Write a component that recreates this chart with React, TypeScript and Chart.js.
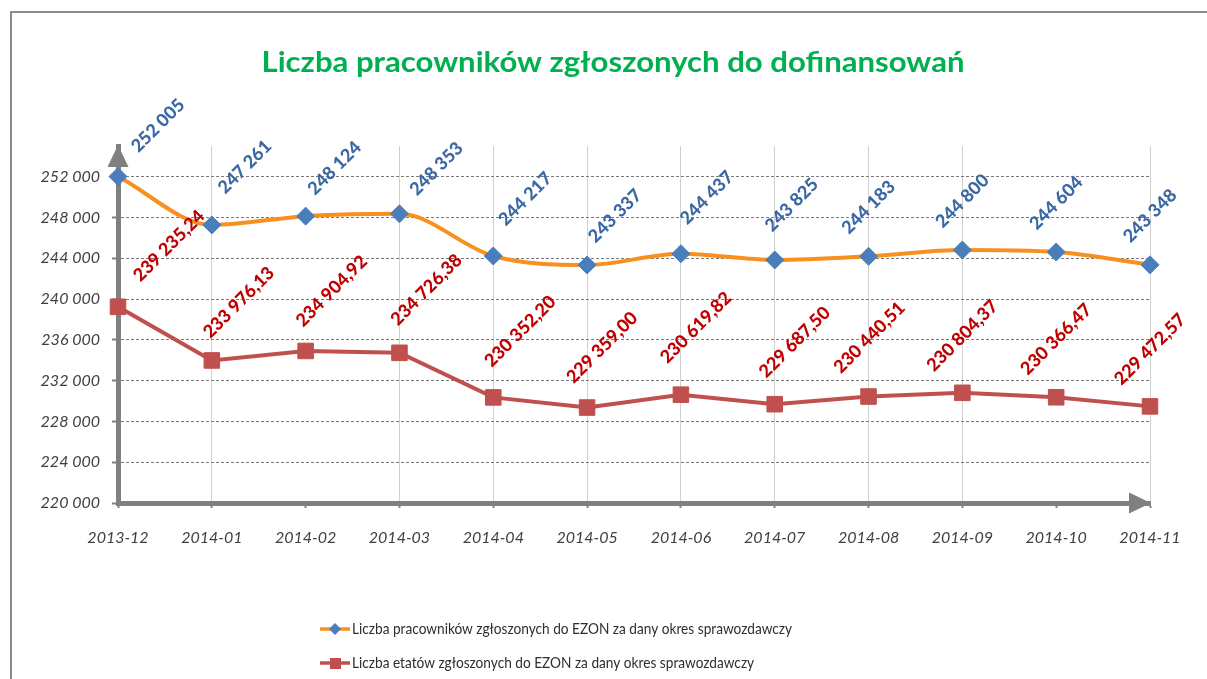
import React, { useEffect, useRef } from "react";
import { Chart, registerables } from "chart.js";

Chart.register(...registerables);

// ---------- data ----------
const categories = [
  "2013-12", "2014-01", "2014-02", "2014-03", "2014-04", "2014-05",
  "2014-06", "2014-07", "2014-08", "2014-09", "2014-10", "2014-11",
];
const workers = [252005, 247261, 248124, 248353, 244217, 243337, 244437, 243825, 244183, 244800, 244604, 243348];
const fte = [239235.24, 233976.13, 234904.92, 234726.38, 230352.2, 229359.0, 230619.82, 229687.5, 230440.51, 230804.37, 230366.47, 229472.57];
const yTicks = [220000, 224000, 228000, 232000, 236000, 240000, 244000, 248000, 252000];
const yMin = 220000;
const yMax = 255000;
const chartTitle = "Liczba pracowników zgłoszonych do dofinansowań";
const seriesNames = [
  "Liczba pracowników zgłoszonych do EZON za dany okres sprawozdawczy",
  "Liczba etatów zgłoszonych do EZON za dany okres sprawozdawczy",
];

// ---------- styles ----------
const W = 1207;
const H = 679;
const ORANGE = "#F7901E";
const BLUE_MARK = "#4A7EBB";
const BLUE_TEXT = "#3A68A3";
const RED_LINE = "#C0504D";
const RED_TEXT = "#C00000";
const AXIS = "#808080";
const FONT = "Lato, 'Open Sans', sans-serif";
// label nudges (x, y offsets in px of the rotated label centre from its point)
const labelNudge = [
  {
    dx: [40, 33, 29, 37, 32, 28, 26, 17, 0, 0, 0, 0],
    dy: [-51, -58, -48, -45, -57, -49, -56, -55, -49, -49, -49, -49],
  },
  {
    dx: [51, 27, 26, 27, 27, 15, 15, 20, 1, 0, 0, 0],
    dy: [-61, -58, -60, -63, -66, -60, -67, -62, -59, -57, -58, -57],
  },
];
const hiddenVGrid = [2, 10];

function fmtInt(v: number): string {
  return Math.round(v).toString().replace(/\B(?=(\d{3})+(?!\d))/g, " ");
}
function fmtDec(v: number): string {
  const [i, d] = v.toFixed(2).split(".");
  return i.replace(/\B(?=(\d{3})+(?!\d))/g, " ") + "," + d;
}

function drawScaledText(ctx: CanvasRenderingContext2D, text: string, x: number, y: number, sx: number) {
  ctx.save();
  ctx.translate(x, y);
  ctx.scale(sx, 1);
  ctx.fillText(text, 0, 0);
  ctx.restore();
}

const decorPlugin = {
  id: "decor",
  beforeDraw(chart: any) {
    const ctx: CanvasRenderingContext2D = chart.ctx;
    ctx.save();
    ctx.fillStyle = "#FFFFFF";
    ctx.fillRect(0, 0, W, H);
    // outer frame
    ctx.strokeStyle = "#8C8C8C";
    ctx.lineWidth = 2;
    ctx.beginPath();
    ctx.moveTo(11, H + 2);
    ctx.lineTo(11, 12);
    ctx.lineTo(W + 2, 12);
    ctx.stroke();
    // title
    ctx.fillStyle = "#00B050";
    ctx.font = `bold 29px ${FONT}`;
    ctx.textBaseline = "alphabetic";
    ctx.textAlign = "left";
    const tw = ctx.measureText(chartTitle).width;
    const targetW = 703;
    const sx = targetW / tw;
    drawScaledText(ctx, chartTitle, 613 - targetW / 2, 72, sx);
    ctx.restore();
  },
  beforeDatasetsDraw(chart: any) {
    const ctx: CanvasRenderingContext2D = chart.ctx;
    const a = chart.chartArea;
    ctx.save();
    ctx.fillStyle = AXIS;
    // y arrow
    ctx.beginPath();
    ctx.moveTo(a.left, a.top - 1);
    ctx.lineTo(a.left - 10.5, a.top + 21);
    ctx.lineTo(a.left + 10.5, a.top + 21);
    ctx.closePath();
    ctx.fill();
    // x arrow
    ctx.beginPath();
    ctx.moveTo(a.right + 1, a.bottom);
    ctx.lineTo(a.right - 21, a.bottom - 10.5);
    ctx.lineTo(a.right - 21, a.bottom + 10.5);
    ctx.closePath();
    ctx.fill();
    ctx.restore();
  },
  afterDatasetsDraw(chart: any) {
    const ctx: CanvasRenderingContext2D = chart.ctx;
    ctx.save();
    // data labels
    chart.data.datasets.forEach((ds: any, di: number) => {
      const meta = chart.getDatasetMeta(di);
      ctx.fillStyle = di === 0 ? BLUE_TEXT : RED_TEXT;
      ctx.font = `900 18px ${FONT}`;
      ctx.textAlign = "center";
      ctx.textBaseline = "middle";
      meta.data.forEach((pt: any, i: number) => {
        const v = ds.data[i] as number;
        const txt = di === 0 ? fmtInt(v) : fmtDec(v);
        ctx.save();
        ctx.translate(pt.x + labelNudge[di].dx[i], pt.y + labelNudge[di].dy[i]);
        ctx.rotate(-Math.PI / 4);
        ctx.fillText(txt, 0, 0);
        ctx.restore();
      });
    });
    // legend
    ctx.font = `16px ${FONT}`;
    ctx.textAlign = "left";
    ctx.textBaseline = "middle";
    const w0 = ctx.measureText(seriesNames[0]).width;
    const lsx = 440 / w0;
    chart.data.datasets.forEach((ds: any, di: number) => {
      const y = 629 + di * 34;
      ctx.strokeStyle = ds.borderColor;
      ctx.lineWidth = 3.5;
      ctx.beginPath();
      ctx.moveTo(320, y);
      ctx.lineTo(350, y);
      ctx.stroke();
      ctx.fillStyle = ds.pointBackgroundColor;
      if (di === 0) {
        ctx.beginPath();
        ctx.moveTo(335, y - 6);
        ctx.lineTo(341, y);
        ctx.lineTo(335, y + 6);
        ctx.lineTo(329, y);
        ctx.closePath();
        ctx.fill();
      } else {
        ctx.fillRect(330, y - 5, 11, 11);
      }
      ctx.fillStyle = "#2E2E2E";
      drawScaledText(ctx, ds.label, 352, y, lsx);
    });
    ctx.restore();
  },
};

export default function App() {
  const ref = useRef<HTMLCanvasElement | null>(null);
  useEffect(() => {
    document.body.style.margin = "0";
    if (!ref.current) return;
    const tickFont = { family: FONT, size: 16, style: "italic" as const };
    const chart = new Chart(ref.current, {
      type: "line",
      data: {
        labels: categories,
        datasets: [
          {
            label: seriesNames[0],
            data: workers,
            borderColor: ORANGE,
            borderWidth: 4,
            cubicInterpolationMode: "monotone",
            pointStyle: "rectRot",
            pointRadius: 9,
            pointBackgroundColor: BLUE_MARK,
            pointBorderColor: BLUE_MARK,
            pointBorderWidth: 1,
            clip: false as any,
          },
          {
            label: seriesNames[1],
            data: fte,
            borderColor: RED_LINE,
            borderWidth: 4,
            tension: 0,
            pointStyle: "rect",
            pointRadius: 11,
            pointBackgroundColor: RED_LINE,
            pointBorderColor: RED_LINE,
            pointBorderWidth: 1,
            clip: false as any,
          },
        ],
      },
      options: {
        responsive: false,
        animation: false,
        layout: { padding: { left: 18, right: 57, top: 146, bottom: 126 } },
        plugins: {
          legend: { display: false },
          title: { display: false },
          tooltip: { enabled: false },
        },
        scales: {
          x: {
            type: "category",
            offset: false,
            grid: {
              color: (c: any) => (hiddenVGrid.includes(c.index) ? "rgba(0,0,0,0)" : "#D0D0D0"),
              lineWidth: 1,
              tickLength: 5,
              tickColor: AXIS,
              tickWidth: 2,
            },
            border: { color: AXIS, width: 5 },
            ticks: {
              font: tickFont,
              color: "#404040",
              padding: 20,
              maxRotation: 0,
              autoSkip: false,
            },
            afterFit: (s: any) => {
              s.height = 50;
            },
          },
          y: {
            min: yMin,
            max: yMax,
            afterBuildTicks: (s: any) => {
              s.ticks = yTicks.map((v) => ({ value: v }));
            },
            grid: {
              color: "#7A7A7A",
              lineWidth: 1,
              tickLength: 6,
              tickColor: AXIS,
              tickWidth: 2,
            },
            border: { color: AXIS, width: 5, dash: [3, 2] },
            ticks: {
              font: tickFont,
              color: "#404040",
              padding: 12,
              callback: (v: any) => fmtInt(Number(v)),
            },
            afterFit: (s: any) => {
              s.width = 100;
            },
          },
        },
      },
      plugins: [decorPlugin],
    });
    return () => chart.destroy();
  }, []);
  return (
    <div style={{ width: W, height: H }}>
      <canvas ref={ref} width={W} height={H} />
    </div>
  );
}
